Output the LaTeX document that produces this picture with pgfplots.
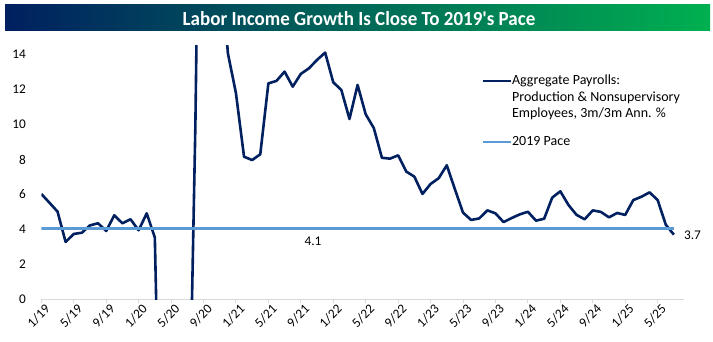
\documentclass[border=0pt]{standalone}
\usepackage{pgfplots}
\pgfplotsset{compat=1.18}
\usepackage{fontspec}
\setmainfont{Carlito}
\definecolor{navy}{RGB}{0,32,96}
\definecolor{paceblue}{RGB}{91,155,213}
\definecolor{bannerL}{RGB}{0,32,96}
\definecolor{bannerR}{RGB}{0,176,80}
\definecolor{axgray}{RGB}{217,217,217}
\begin{document}
\begin{tikzpicture}
\useasboundingbox (0,0) rectangle (713bp,342bp);
\fill[white] (0,0) rectangle (713bp,342bp);
\shade[left color=bannerL, right color=bannerR] (5bp,311.3bp) rectangle (710bp,337bp);
\node[anchor=base, text=white, font=\bfseries\fontsize{20bp}{24bp}\selectfont, inner sep=0pt] at (359bp,316.7bp) {\scalebox{0.95}[1]{Labor Income Growth Is Close To 2019\textquotesingle s Pace}};
\begin{axis}[
  at={(41.3bp,42.7bp)}, anchor=south west,
  width=642.3bp, height=254.2bp, scale only axis,
  xmin=0, xmax=79.2, ymin=0, ymax=14.55,
  clip mode=individual,
  axis x line*=bottom, axis y line*=left,
  y axis line style={draw=none},
  x axis line style={draw=axgray, line width=1pt},
  xtick={0,4,...,76},
  xticklabels={1/19,5/19,9/19,1/20,5/20,9/20,1/21,5/21,9/21,1/22,5/22,9/22,1/23,5/23,9/23,1/24,5/24,9/24,1/25,5/25},
  ytick={0,2,...,14},
  tick align=outside,
  major tick length=4bp,
  xtick style={draw=axgray, line width=1pt},
  ytick style={draw=none},
  /pgf/number format/assume math mode=true,
  tick label style={font=\fontsize{13.3bp}{16bp}\selectfont, text=black},
  xticklabel style={rotate=45, anchor=north east, inner sep=1bp, xshift=3bp, yshift=-1bp},
  yticklabel style={xshift=-8bp},
  legend style={at={(0.6857,0.886)}, anchor=north west, draw=none, fill=none,
    font=\fontsize{14bp}{16.5bp}\selectfont, inner sep=0pt,
    row sep=2.8bp, column sep=0bp,
    nodes={inner sep=0pt, text height=10.5bp, text depth=3.2bp},
    cells={anchor=west}},
  legend cell align=left,
  legend image code/.code={\draw[#1] (0bp,0bp) -- (27.6bp,0bp);},
]
\addplot[navy, line width=2.6bp, line join=round] coordinates {
(0,6.03)(1,5.53)(2,5.02)(3,3.28)(4,3.74)(5,3.81)(6,4.23)(7,4.35)(8,3.91)(9,4.81)
(10,4.35)(11,4.58)(12,3.95)(13,4.92)(14,3.53)(15,-18)(16,-34)(17,-38)(18,-14)(19,10)
(20,45)(21,32)(22,21)(23,14.1)(24,11.8)(25,8.16)(26,7.97)(27,8.3)(28,12.36)(29,12.5)
(30,13.03)(31,12.17)(32,12.9)(33,13.22)(34,13.7)(35,14.12)(36,12.42)(37,11.98)(38,10.32)(39,12.27)
(40,10.59)(41,9.8)(42,8.1)(43,8.05)(44,8.24)(45,7.31)(46,7.02)(47,6.03)(48,6.6)(49,6.93)
(50,7.67)(51,6.3)(52,4.96)(53,4.54)(54,4.63)(55,5.09)(56,4.92)(57,4.42)(58,4.65)(59,4.86)
(60,5.01)(61,4.5)(62,4.61)(63,5.82)(64,6.18)(65,5.4)(66,4.83)(67,4.58)(68,5.09)(69,5.0)
(70,4.69)(71,4.94)(72,4.83)(73,5.68)(74,5.87)(75,6.12)(76,5.68)(77,4.27)(78,3.7)
};
\addlegendentry{Aggregate Payrolls:}
\addlegendimage{empty legend}
\addlegendentry{Production \& Nonsupervisory}
\addlegendimage{empty legend}
\addlegendentry{Employees, 3m/3m Ann. \%}
\addplot[paceblue, line width=2.6bp] coordinates {(0,4.05)(78,4.05)};
\addlegendentry[text height=22bp, text depth=14.7bp]{2019 Pace}
\node[font=\fontsize{13.3bp}{16bp}\selectfont] at (axis cs:33.5,3.34) {4.1};
\node[font=\fontsize{13.3bp}{16bp}\selectfont] at (axis cs:80.3,3.68) {3.7};
\end{axis}
\end{tikzpicture}
\end{document}
